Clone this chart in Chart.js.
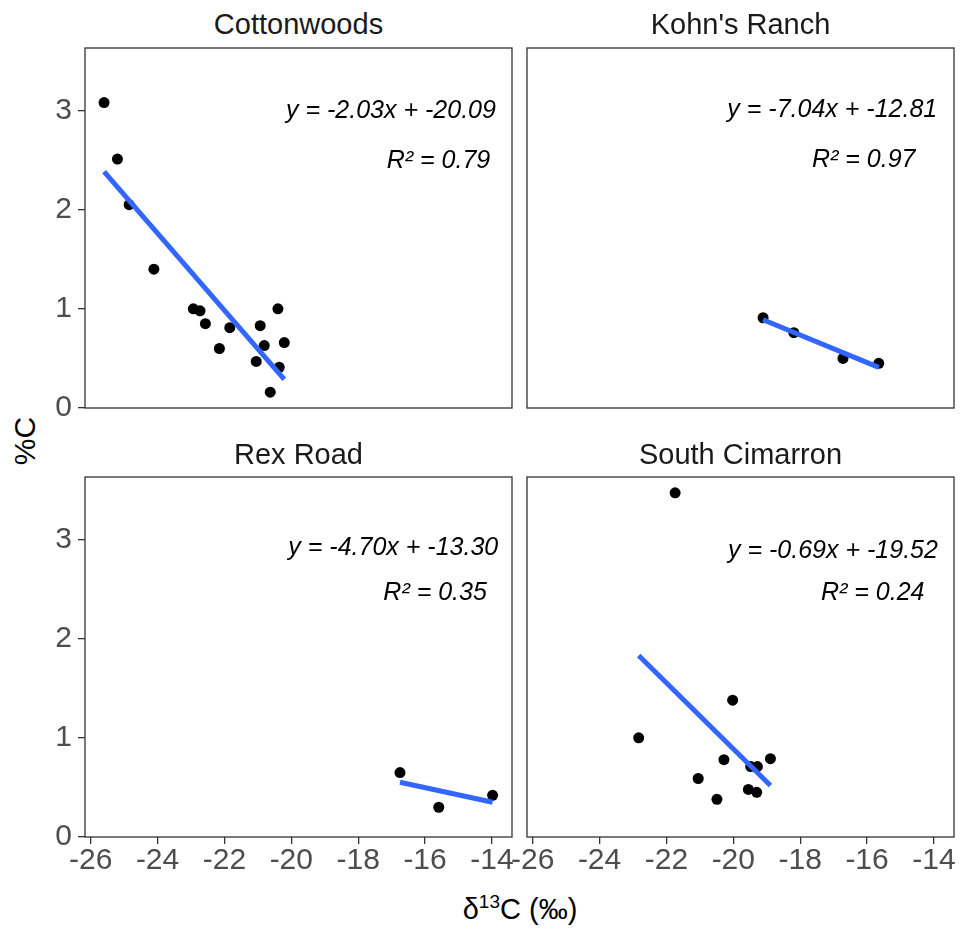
<!DOCTYPE html>
<html>
<head>
<meta charset="utf-8">
<script src="https://cdn.jsdelivr.net/npm/chart.js@4.4.1/dist/chart.umd.min.js"></script>
<style>
  body { margin: 0; background: #fff; width: 961px; height: 932px; position: relative; overflow: hidden;
         font-family: "Liberation Sans", Arial, sans-serif; }
  canvas { position: absolute; }
  .strip { position: absolute; width: 427px; text-align: center; font-size: 29px; line-height: 29px; color: #1a1a1a; }
  .ylab { position: absolute; left: 25px; top: 441px; font-size: 30px; line-height: 30px; color: #000;
          transform: translate(-50%, -50%) rotate(-90deg); white-space: nowrap; }
  .xlab { position: absolute; left: 520px; top: 893px; transform: translateX(-50%); font-size: 29px;
          line-height: 32px; color: #000; white-space: nowrap; }
  .xlab sup { font-size: 19px; vertical-align: 11px; line-height: 0; }
</style>
</head>
<body>
<canvas id="p0" width="520" height="376" style="left:0;top:40px"></canvas>
<canvas id="p1" width="442" height="376" style="left:519px;top:40px"></canvas>
<canvas id="p2" width="520" height="418" style="left:0;top:469px"></canvas>
<canvas id="p3" width="461" height="418" style="left:500px;top:469px"></canvas>

<div class="strip" style="left:85px;top:10px">Cottonwoods</div>
<div class="strip" style="left:527px;top:10px">Kohn's Ranch</div>
<div class="strip" style="left:85px;top:440px">Rex Road</div>
<div class="strip" style="left:527px;top:440px">South Cimarron</div>
<div class="ylab">%C</div>
<div class="xlab">&delta;<sup>13</sup>C (&permil;)</div>

<script>
// δ13C (‰) and %C for each site
const cottonwoodsD13C = [-25.60, -25.20, -24.85, -24.11, -22.93, -22.73, -22.57, -22.15, -21.84, -20.93, -21.05, -20.81, -20.40, -20.21, -20.36, -20.63];
const cottonwoodsC    = [3.08, 2.51, 2.05, 1.40, 1.00, 0.98, 0.85, 0.60, 0.81, 0.83, 0.47, 0.63, 1.00, 0.66, 0.41, 0.16];

const kohnsD13C = [-19.11, -18.19, -16.72, -15.65];
const kohnsC    = [0.91, 0.76, 0.50, 0.45];

const rexD13C = [-16.75, -15.59, -13.98];
const rexC    = [0.65, 0.30, 0.42];

const cimarronD13C = [-21.74, -22.83, -20.02, -20.28, -21.05, -20.49, -19.48, -19.28, -18.89, -19.55, -19.30];
const cimarronC    = [3.47, 1.00, 1.38, 0.78, 0.59, 0.38, 0.71, 0.71, 0.79, 0.48, 0.45];

const siteNames = ['Cottonwoods', "Kohn's Ranch", 'Rex Road', 'South Cimarron'];
const equations = ['y = -2.03x + -20.09', 'y = -7.04x + -12.81', 'y = -4.70x + -13.30', 'y = -0.69x + -19.52'];
const r2Labels  = ['R² = 0.79', 'R² = 0.97', 'R² = 0.35', 'R² = 0.24'];

const xTicks = [-26, -24, -22, -20, -18, -16, -14];
const yTicks = [0, 1, 2, 3];

// shared axis limits (facets use fixed scales)
const X_MIN = -26.17, X_MAX = -13.40;
const Y_MIN = 0, Y_MAX = 3.63;

// where the equation / R² annotations sit, in data units
const notePos = [
  { eq: [-17.02, 2.99], r2: [-15.60, 2.49] },
  { eq: [-17.04, 3.00], r2: [-16.10, 2.50] },
  { eq: [-16.95, 2.91], r2: [-15.70, 2.46] },
  { eq: [-17.02, 2.88], r2: [-15.83, 2.46] }
];

// which axes each facet shows + padding so plot areas line up
const layouts = [
  { showX: false, showY: true,  pad: { left: 0,  top: 8, right: 8, bottom: 8 } },
  { showX: false, showY: false, pad: { left: 8,  top: 8, right: 7, bottom: 8 } },
  { showX: true,  showY: true,  pad: { left: 0,  top: 8, right: 8, bottom: 0 } },
  { showX: true,  showY: false, pad: { left: 27, top: 8, right: 7, bottom: 0 } }
];

const sites = [
  [cottonwoodsD13C, cottonwoodsC],
  [kohnsD13C, kohnsC],
  [rexD13C, rexC],
  [cimarronD13C, cimarronC]
];

// ordinary least squares of %C on δ13C, drawn over the range of the data
function fitLine(xs, ys) {
  const n = xs.length;
  const mx = xs.reduce((a, b) => a + b, 0) / n;
  const my = ys.reduce((a, b) => a + b, 0) / n;
  let sxy = 0, sxx = 0;
  for (let i = 0; i < n; i++) {
    sxy += (xs[i] - mx) * (ys[i] - my);
    sxx += (xs[i] - mx) * (xs[i] - mx);
  }
  const b = sxy / sxx, a = my - b * mx;
  const lo = Math.min(...xs), hi = Math.max(...xs);
  return [{ x: lo, y: a + b * lo }, { x: hi, y: a + b * hi }];
}

const TICK_COLOR = '#4d4d4d';
const LINE_COLOR = '#333333';
const FONT = '"Liberation Sans", Arial, sans-serif';

// frame around each facet plus the equation text
const facetDecor = {
  id: 'facetDecor',
  afterDatasetsDraw(chart, args, opts) {
    const { ctx, chartArea: a, scales } = chart;
    ctx.save();
    ctx.strokeStyle = LINE_COLOR;
    ctx.lineWidth = 1.3;
    ctx.strokeRect(a.left, a.top, a.right - a.left, a.bottom - a.top);

    const p = notePos[opts.index];
    ctx.fillStyle = '#000';
    ctx.font = 'italic 25px ' + FONT;
    ctx.textAlign = 'center';
    ctx.textBaseline = 'middle';
    ctx.fillText(equations[opts.index], scales.x.getPixelForValue(p.eq[0]), scales.y.getPixelForValue(p.eq[1]));
    ctx.fillText(r2Labels[opts.index], scales.x.getPixelForValue(p.r2[0]), scales.y.getPixelForValue(p.r2[1]));
    ctx.restore();
  }
};

sites.forEach(([xs, ys], i) => {
  const lay = layouts[i];
  const points = xs.map((x, k) => ({ x: x, y: ys[k] }));

  new Chart(document.getElementById('p' + i), {
    type: 'scatter',
    data: {
      datasets: [
        {
          type: 'line',
          label: 'fit',
          data: fitLine(xs, ys),
          borderColor: '#3366FF',
          borderWidth: 5,
          pointRadius: 0,
          fill: false,
          order: 0
        },
        {
          label: siteNames[i],
          data: points,
          backgroundColor: '#000',
          borderWidth: 0,
          pointRadius: 5.5,
          order: 1
        }
      ]
    },
    options: {
      responsive: false,
      maintainAspectRatio: false,
      animation: false,
      layout: { padding: lay.pad },
      plugins: {
        legend: { display: false },
        tooltip: { enabled: false },
        facetDecor: { index: i }
      },
      scales: {
        x: {
          type: 'linear',
          min: X_MIN,
          max: X_MAX,
          display: lay.showX,
          afterBuildTicks: s => { s.ticks = xTicks.map(v => ({ value: v })); },
          afterFit: s => {
            if (!lay.showX) return;
            s.height = 50;
            s.paddingLeft = 0;
            s.paddingRight = 0;
          },
          border: { display: false },
          grid: { drawOnChartArea: false, drawTicks: true, tickLength: 7, color: LINE_COLOR, lineWidth: 1.3 },
          ticks: {
            color: TICK_COLOR,
            padding: 2,
            maxRotation: 0,
            autoSkip: false,
            font: { family: FONT, size: 30, lineHeight: 1.0 },
            callback: v => String(v)
          }
        },
        y: {
          type: 'linear',
          min: Y_MIN,
          max: Y_MAX,
          display: lay.showY,
          afterBuildTicks: s => { s.ticks = yTicks.map(v => ({ value: v })); },
          afterFit: s => {
            if (!lay.showY) return;
            s.width = 85;
            s.paddingTop = 0;
            s.paddingBottom = 0;
          },
          border: { display: false },
          grid: { drawOnChartArea: false, drawTicks: true, tickLength: 7, color: LINE_COLOR, lineWidth: 1.3 },
          ticks: {
            color: TICK_COLOR,
            padding: 6,
            autoSkip: false,
            font: { family: FONT, size: 30, lineHeight: 1.0 },
            callback: v => String(v)
          }
        }
      }
    },
    plugins: [facetDecor]
  });
});
</script>
</body>
</html>
